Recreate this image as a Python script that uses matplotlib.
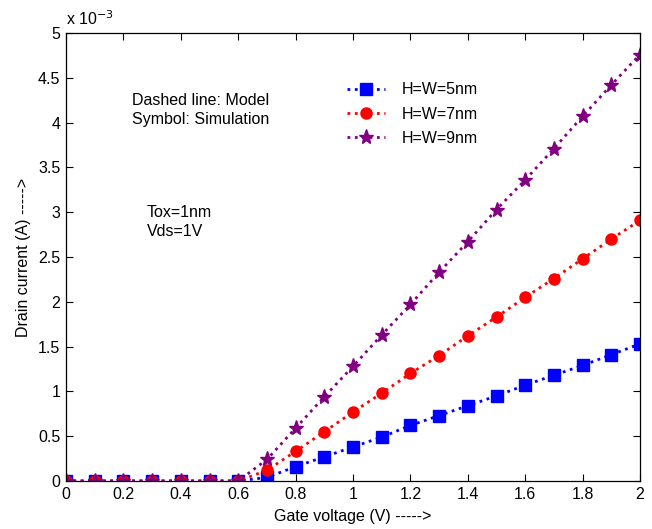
import matplotlib
matplotlib.use("Agg")
import matplotlib.pyplot as plt
import numpy as np

plt.rcParams['font.family'] = ['Liberation Sans', 'DejaVu Sans']

# gate voltage sweep (V)
vg = [0.0, 0.1, 0.2, 0.3, 0.4, 0.5, 0.6, 0.7, 0.8, 0.9, 1.0,
      1.1, 1.2, 1.3, 1.4, 1.5, 1.6, 1.7, 1.8, 1.9, 2.0]

# drain current in units of 1e-3 A
id_5nm = [0, 0, 0, 0, 0, 0, 0, 0.04, 0.16, 0.27, 0.38,
          0.49, 0.62, 0.73, 0.84, 0.95, 1.07, 1.18, 1.29, 1.41, 1.53]
id_7nm = [0, 0, 0, 0, 0, 0, 0, 0.12, 0.33, 0.55, 0.77,
          0.98, 1.20, 1.40, 1.62, 1.83, 2.05, 2.26, 2.48, 2.70, 2.91]
id_9nm = [0, 0, 0, 0, 0, 0, 0, 0.24, 0.59, 0.94, 1.28,
          1.63, 1.97, 2.33, 2.67, 3.03, 3.36, 3.71, 4.07, 4.42, 4.76]

labels = ['H=W=5nm', 'H=W=7nm', 'H=W=9nm']

fs = 11.5

fig = plt.figure(figsize=(6.52, 5.29), dpi=100)
ax = fig.add_axes([66 / 652, 1 - 481 / 529, 574 / 652, 448 / 529])

ax.plot(vg, np.array(id_5nm) * 1e-3, ':', color='#0000ff', lw=2,
        marker='s', ms=8, label=labels[0])
ax.plot(vg, np.array(id_7nm) * 1e-3, ':', color='#ff0000', lw=2,
        marker='o', ms=8, label=labels[1])
ax.plot(vg, np.array(id_9nm) * 1e-3, ':', color='#800080', lw=2,
        marker='*', ms=11, label=labels[2])

ax.set_xlim(0, 2)
ax.set_ylim(0, 5e-3)
ax.set_xticks(np.arange(0, 2.01, 0.2))
ax.set_xticklabels(['0', '0.2', '0.4', '0.6', '0.8', '1', '1.2', '1.4',
                    '1.6', '1.8', '2'])
ax.set_yticks(np.arange(0, 5.01e-3, 0.5e-3))
ax.set_yticklabels(['0', '0.5', '1', '1.5', '2', '2.5', '3', '3.5',
                    '4', '4.5', '5'])
ax.tick_params(direction='in', top=True, right=True, labelsize=fs,
               length=5, width=0.8, pad=4)
for s in ax.spines.values():
    s.set_linewidth(0.9)

ax.text(0.0, 1.012, r'x 10$^{-3}$', transform=ax.transAxes,
        fontsize=fs, va='bottom', ha='left')

ax.set_xlabel('Gate voltage (V) ----->', fontsize=fs, labelpad=5)
ax.set_ylabel('Drain current (A) ----->', fontsize=fs, labelpad=5)

ax.text(0.23, 4.14e-3, 'Dashed line: Model\nSymbol: Simulation',
        fontsize=fs, va='center', linespacing=1.3)
ax.text(0.282, 2.89e-3, 'Tox=1nm\nVds=1V', fontsize=fs, va='center',
        linespacing=1.3)

ax.legend(loc='upper left', bbox_to_anchor=(0.4895, 0.89), frameon=False,
          fontsize=fs, handlelength=2.4, handletextpad=1.0,
          labelspacing=0.58, borderpad=0, borderaxespad=0)

fig.savefig('out.png', dpi=100)
